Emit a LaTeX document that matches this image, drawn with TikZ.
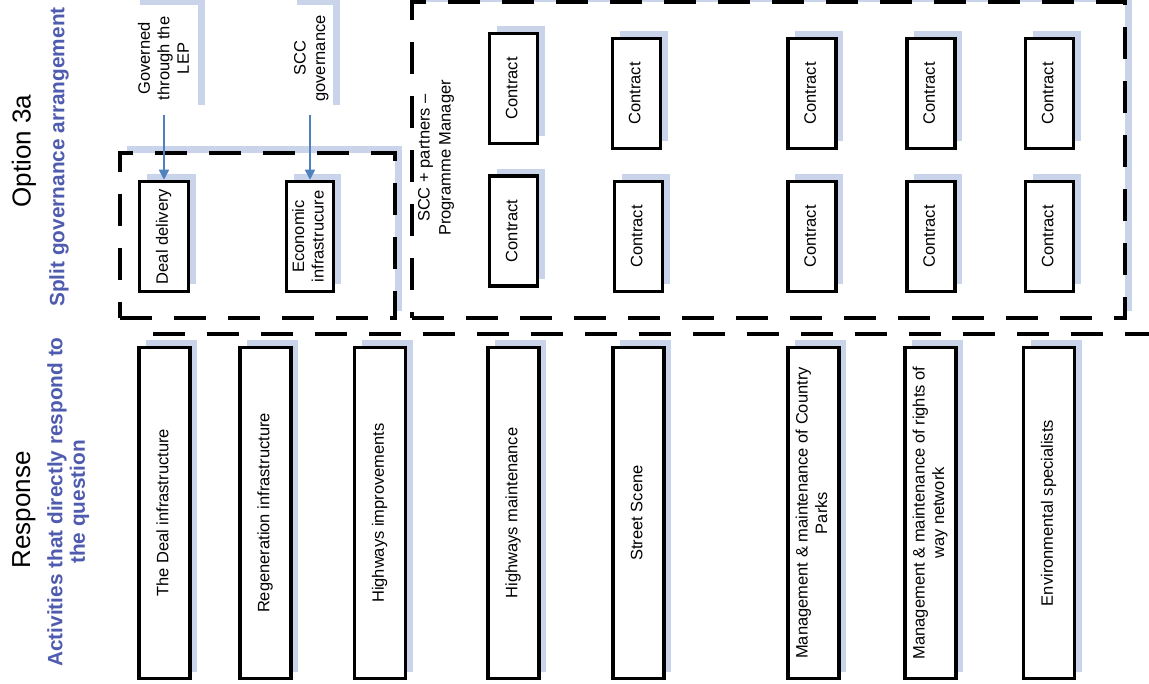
\documentclass[tikz,border=0pt]{standalone}
\usepackage{fontspec}
\setmainfont{Liberation Sans}
\usetikzlibrary{arrows.meta,shadows,calc}
\definecolor{shadowblue}{HTML}{C9D3EA}
\definecolor{titleblue}{HTML}{4F5BAF}
\definecolor{arrowblue}{HTML}{4F81BD}

% upright text turned to read bottom-to-top
\newcommand{\vtext}[1]{\rotatebox{90}{\begin{tabular}{@{}c@{}}#1\end{tabular}}}

\tikzset{
  shade/.style={drop shadow={shadow xshift=7pt, shadow yshift=7pt, fill=shadowblue, opacity=1}},
  box/.style={draw=black, line width=3.5pt, fill=white, inner sep=0pt, shade,
              font=\fontsize{16.5}{19.5}\selectfont},
  contract/.style={box, minimum width=48pt, minimum height=110pt},
  activity/.style={box, minimum width=51pt, minimum height=331pt},
  labelbox/.style={fill=white, inner sep=0pt, shade, font=\fontsize{16.5}{19.5}\selectfont},
  dashbox/.style={draw=black, line width=4pt, dash pattern=on 32pt off 22pt, fill=white,
                  inner sep=0pt, shade},
  dashline/.style={draw=black, line width=4pt, dash pattern=on 32pt off 22pt},
  govarrow/.style={draw=arrowblue, line width=1.6pt, -{Triangle[width=10pt,length=10pt]}},
  heading/.style={inner sep=0pt, font=\fontsize{26}{30}\selectfont},
  subheading/.style={inner sep=0pt, text=titleblue, font=\bfseries\fontsize{20.8}{22.5}\selectfont}
}

\begin{document}
\begin{tikzpicture}[x=1pt, y=-1pt]
\useasboundingbox (0,0) rectangle (1149,684);

% ---- side headings
\node[heading] (opt) at (24,151) {\rotatebox{90}{Option 3a}};
\node[subheading] (split) at (59,157) {\rotatebox{90}{Split governance arrangement}};
\node[heading] (resp) at (24,510) {\rotatebox{90}{Response}};
\node[subheading] (acts) at (69,502) {\vtext{Activities that directly respond to\\the question}};

% ---- governance groupings
\node[dashbox, minimum width=275pt, minimum height=165pt] (split box) at (257.5,235.5) {};
\node[dashbox, minimum width=713pt, minimum height=316pt] (pm box) at (768.5,160) {};
\coordinate (sep west) at (153,334);
\coordinate (sep east) at (1149,334);
\draw[dashline] (sep west) -- (sep east);

% ---- governance labels
\node[labelbox, minimum width=65pt, minimum height=107pt] (lep) at (165.5,58.5) {\vtext{Governed\\through the\\LEP}};
\node[labelbox, minimum width=43pt, minimum height=107pt] (sccgov) at (311.5,58.5) {\vtext{SCC\\governance}};
\node[inner sep=0pt, font=\fontsize{16.5}{21}\selectfont] (pm) at (436,158) {\vtext{SCC + partners --\\Programme Manager}};

% ---- delivery boxes
\node[contract, minimum width=49pt] (dd) at (164,236.5) {\vtext{Deal delivery}};
\node[contract, minimum width=47pt] (econ) at (310,236.5) {\vtext{Economic\\infrastrucure}};

\draw[govarrow, shorten <=3pt] (lep.south -| dd.north) -- (dd.north);
\draw[govarrow, shorten <=3pt] (sccgov.south -| econ.north) -- (econ.north);

% ---- contracts
\node[contract] (c1a) at (513.5,88.5) {\vtext{Contract}};
\node[contract] (c1b) at (513.5,231) {\vtext{Contract}};
\node[contract] (c2a) at (636.5,93.5) {\vtext{Contract}};
\node[contract] (c2b) at (638.5,236.5) {\vtext{Contract}};
\node[contract] (c3a) at (812,93.5) {\vtext{Contract}};
\node[contract] (c3b) at (812,236.5) {\vtext{Contract}};
\node[contract] (c4a) at (931,93.5) {\vtext{Contract}};
\node[contract] (c4b) at (931,236.5) {\vtext{Contract}};
\node[contract] (c5a) at (1049.5,93.5) {\vtext{Contract}};
\node[contract] (c5b) at (1049.5,236.5) {\vtext{Contract}};

% ---- activities
\node[activity] (a1) at (164.5,513) {\vtext{The Deal infrastructure}};
\node[activity] (a2) at (265.5,513) {\vtext{Regeneration infrastructure}};
\node[activity] (a3) at (380,513) {\vtext{Highways improvements}};
\node[activity] (a4) at (513.5,513) {\vtext{Highways maintenance}};
\node[activity] (a5) at (638.5,513) {\vtext{Street Scene}};
\node[activity] (a6) at (813.5,513) {\vtext{Management \& maintenance of Country\\Parks}};
\node[activity] (a7) at (930.5,513) {\vtext{Management \& maintenance of rights of\\way network}};
\node[activity] (a8) at (1049,513) {\vtext{Environmental specialists}};
\end{tikzpicture}
\end{document}
